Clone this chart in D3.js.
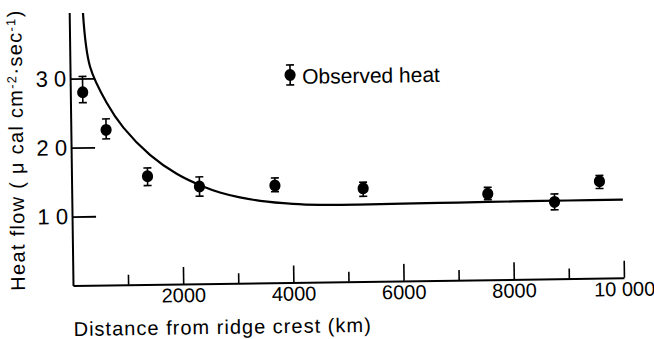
<!DOCTYPE html>
<html><head><meta charset="utf-8">
<script src="https://cdn.jsdelivr.net/npm/d3@7"></script>
<style>
html,body{margin:0;padding:0;background:#fff;}
svg{display:block;font-family:"Liberation Sans",Arial,Helvetica,sans-serif;}
</style></head><body>
<svg id="chart" width="654" height="339"></svg>
<script>
// Observed heat flow (μcal cm-2 sec-1) vs distance from ridge crest (km)
const distanceKm   = [225, 640, 1380, 2320, 3690, 5290, 7550, 8760, 9580];
const observedHeat = [2.80, 2.25, 1.57, 1.41, 1.41, 1.35, 1.245, 1.115, 1.405];
const heatLow      = [2.65, 2.12, 1.435, 1.27, 1.32, 1.235, 1.16, 1.00, 1.30];
const heatHigh     = [3.03, 2.41, 1.69, 1.55, 1.52, 1.44, 1.34, 1.23, 1.49];

// Theoretical curve
const modelDistanceKm = [250, 365, 660, 955, 1430, 1910, 2385, 2690, 3050, 3420, 4010, 4500, 5200, 6000, 7000, 8000, 9000, 10000];
const modelHeat       = [3.95, 3.17, 2.64, 2.28, 1.88, 1.60, 1.41, 1.32, 1.245, 1.19, 1.14, 1.12, 1.115, 1.12, 1.125, 1.13, 1.133, 1.135];

// Axis ticks
const xMajorTicks = [2000, 4000, 6000, 8000, 10000];
const xTickLabels = ["2000", "4000", "6000", "8000", "10 000"];
const xMinorTicks = [1000, 3000, 5000, 7000, 9000];
const yTicks = [1, 2, 3];
const yTickLabels = ["1 0", "2 0", "3 0"];

const xTitle = "Distance from ridge crest (km)";
const legendLabel = "Observed heat";

const svg = d3.select("#chart");
svg.append("rect").attr("width", 654).attr("height", 339).attr("fill", "#fff");

const x = d3.scaleLinear().domain([0, 10000]).range([73, 624]);
const y = d3.scaleLinear().domain([0, 3.96]).range([285.5, 12.5]);

// scanned page is slightly skewed
const g = svg.append("g").attr("transform", `rotate(-0.8, ${x(0)}, ${y(0)})`);

// x axis: minor ticks
g.append("g")
  .attr("transform", `translate(0,${y(0)})`)
  .call(d3.axisBottom(x).tickValues(xMinorTicks).tickSize(-10).tickFormat(""))
  .call(s => s.select(".domain").remove())
  .call(s => s.selectAll(".tick line").attr("stroke", "#000").attr("stroke-width", 1.6));

// x axis: major ticks + labels
const xAxis = g.append("g")
  .attr("transform", `translate(0,${y(0)})`)
  .call(d3.axisBottom(x).tickValues(xMajorTicks).tickSize(-17).tickSizeOuter(0).tickPadding(4)
        .tickFormat((d, i) => xTickLabels[i]));
xAxis.select(".domain").attr("stroke", "#000").attr("stroke-width", 2);
xAxis.selectAll(".tick line").attr("stroke", "#000").attr("stroke-width", 1.6);
xAxis.selectAll(".tick text").attr("font-size", 20).attr("fill", "#000")
  .attr("font-family", '"Liberation Sans",Arial,sans-serif');

// y axis
const yAxis = g.append("g")
  .attr("transform", `translate(${x(0)},0)`)
  .call(d3.axisLeft(y).tickValues(yTicks).tickSize(-24).tickSizeOuter(0).tickPadding(4)
        .tickFormat((d, i) => yTickLabels[i]));
yAxis.select(".domain").attr("stroke", "#000").attr("stroke-width", 2);
yAxis.selectAll(".tick line").attr("stroke", "#000").attr("stroke-width", 1.8);
yAxis.selectAll(".tick text").attr("font-size", 22).attr("fill", "#000")
  .attr("font-family", '"Liberation Sans",Arial,sans-serif');

// model curve
const line = d3.line().x((d, i) => x(modelDistanceKm[i])).y(d => y(d)).curve(d3.curveCatmullRom.alpha(0.5));
g.append("path").datum(modelHeat)
  .attr("d", line).attr("fill", "none").attr("stroke", "#000").attr("stroke-width", 2.2);

// observed points with error bars
const pts = g.append("g").selectAll("g").data(distanceKm).join("g");
pts.append("line")
  .attr("x1", d => x(d)).attr("x2", d => x(d))
  .attr("y1", (d, i) => y(heatLow[i])).attr("y2", (d, i) => y(heatHigh[i]))
  .attr("stroke", "#000").attr("stroke-width", 1.6);
pts.append("line")
  .attr("x1", d => x(d) - 4).attr("x2", d => x(d) + 4)
  .attr("y1", (d, i) => y(heatLow[i])).attr("y2", (d, i) => y(heatLow[i]))
  .attr("stroke", "#000").attr("stroke-width", 1.6);
pts.append("line")
  .attr("x1", d => x(d) - 4).attr("x2", d => x(d) + 4)
  .attr("y1", (d, i) => y(heatHigh[i])).attr("y2", (d, i) => y(heatHigh[i]))
  .attr("stroke", "#000").attr("stroke-width", 1.6);
pts.append("ellipse")
  .attr("cx", d => x(d)).attr("cy", (d, i) => y(observedHeat[i]))
  .attr("rx", 5.6).attr("ry", 6).attr("fill", "#000");

// legend
const leg = g.append("g").attr("transform", "translate(293,78)");
leg.append("line").attr("x1", 0).attr("x2", 0).attr("y1", -10).attr("y2", 10).attr("stroke", "#000").attr("stroke-width", 1.6);
leg.append("line").attr("x1", -4).attr("x2", 4).attr("y1", -10).attr("y2", -10).attr("stroke", "#000").attr("stroke-width", 1.6);
leg.append("line").attr("x1", -4).attr("x2", 4).attr("y1", 10).attr("y2", 10).attr("stroke", "#000").attr("stroke-width", 1.6);
leg.append("ellipse").attr("rx", 5.6).attr("ry", 6).attr("fill", "#000");
leg.append("text").attr("x", 12).attr("y", 9).attr("font-size", 21).attr("fill", "#000").text(legendLabel);

// helper: stretch text to a target length using letter spacing
function fitText(sel, target) {
  const n = sel.text().length;
  const w = sel.node().getComputedTextLength();
  if (n > 1) sel.attr("letter-spacing", ((target - w) / (n - 1)).toFixed(2));
}

// x title
const xt = g.append("text").attr("x", 73).attr("y", 336).attr("font-size", 20).attr("fill", "#000").text(xTitle);
fitText(xt, 297);

// y title
const yt = g.append("text").attr("transform", "translate(25,290) rotate(-90)")
  .attr("font-size", 20).attr("fill", "#000");
yt.append("tspan").text("Heat flow ( μ cal cm");
yt.append("tspan").attr("font-size", 13).attr("dy", -6).text("-2");
yt.append("tspan").attr("dy", 6).text("·sec");
yt.append("tspan").attr("font-size", 13).attr("dy", -6).text("-1");
yt.append("tspan").attr("dy", 6).text(")");
fitText(yt, 280);
</script>
</body></html>
